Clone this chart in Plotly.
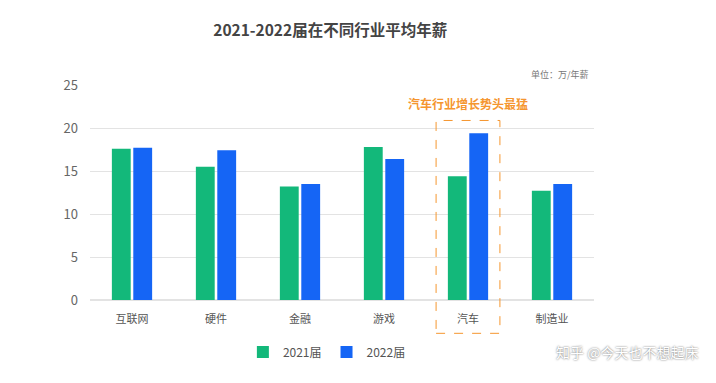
import plotly.graph_objects as go

categories = ["互联网", "硬件", "金融", "游戏", "汽车", "制造业"]
salary_2021 = [17.6, 15.5, 13.2, 17.8, 14.4, 12.7]
salary_2022 = [17.7, 17.4, 13.5, 16.4, 19.4, 13.5]
series_names = ["2021届", "2022届"]
y_ticks = [0, 5, 10, 15, 20, 25]

FONT = "Noto Sans CJK SC"
GREEN = "#13b87a"
BLUE = "#1565f5"
ORANGE = "#f5962f"

fig = go.Figure()
fig.add_trace(go.Bar(x=categories, y=salary_2021, name=series_names[0],
                     marker=dict(color=GREEN, line=dict(width=0))))
fig.add_trace(go.Bar(x=categories, y=salary_2022, name=series_names[1],
                     marker=dict(color=BLUE, line=dict(width=0))))

fig.update_layout(
    width=716, height=383,
    margin=dict(l=82, r=130, t=77, b=91),
    paper_bgcolor="white", plot_bgcolor="white",
    font=dict(family=FONT, color="#555555"),
    barmode="group", bargap=0.49, bargroupgap=0.12,
    showlegend=True,
    legend=dict(orientation="h", x=0.47, xanchor="center", y=-0.242, yanchor="middle",
                font=dict(size=12, color="#555555"), itemwidth=30,
                traceorder="normal"),
    title=dict(text="<b>2021-2022届在不同行业平均年薪</b>", x=0.45, xanchor="center",
               y=0.94, yanchor="middle",
               font=dict(size=15.5, color="#444444", family=FONT)),
)
fig.update_xaxes(showgrid=False, showline=False, ticks="", tickfont=dict(size=11, color="#555555"),
                 ticklabelstandoff=11)
fig.update_yaxes(range=[0, 25], tickvals=y_ticks, showgrid=True, gridcolor="#e3e3e3",
                 gridwidth=1, zeroline=True, zerolinecolor="#e3e3e3", showline=False,
                 tickfont=dict(size=13, color="#666666"), ticklabelstandoff=11)

fig.add_annotation(text="单位：万/年薪", xref="paper", yref="paper", x=0.995, y=1.05,
                   xanchor="right", yanchor="middle", showarrow=False,
                   font=dict(size=9, color="#777777"))
fig.add_annotation(text="<b>汽车行业增长势头最猛</b>", x="汽车", xref="x", yref="y", y=22.9,
                   xanchor="center", yanchor="middle", showarrow=False,
                   font=dict(size=12, color=ORANGE))
fig.add_shape(type="rect", xref="x", yref="paper", x0=3.62, x1=4.38, y0=-0.155, y1=0.835,
              line=dict(color=ORANGE, width=1, dash="dash"), fillcolor="rgba(0,0,0,0)")
fig.add_annotation(text="知乎 @今天也不想起床", xref="paper", yref="paper", x=1.21, y=-0.242,
                   xanchor="right", yanchor="middle", showarrow=False,
                   font=dict(size=14, color="#ffffff", shadow="0px 0px 2px #555555"))

fig.write_html("out.html")
